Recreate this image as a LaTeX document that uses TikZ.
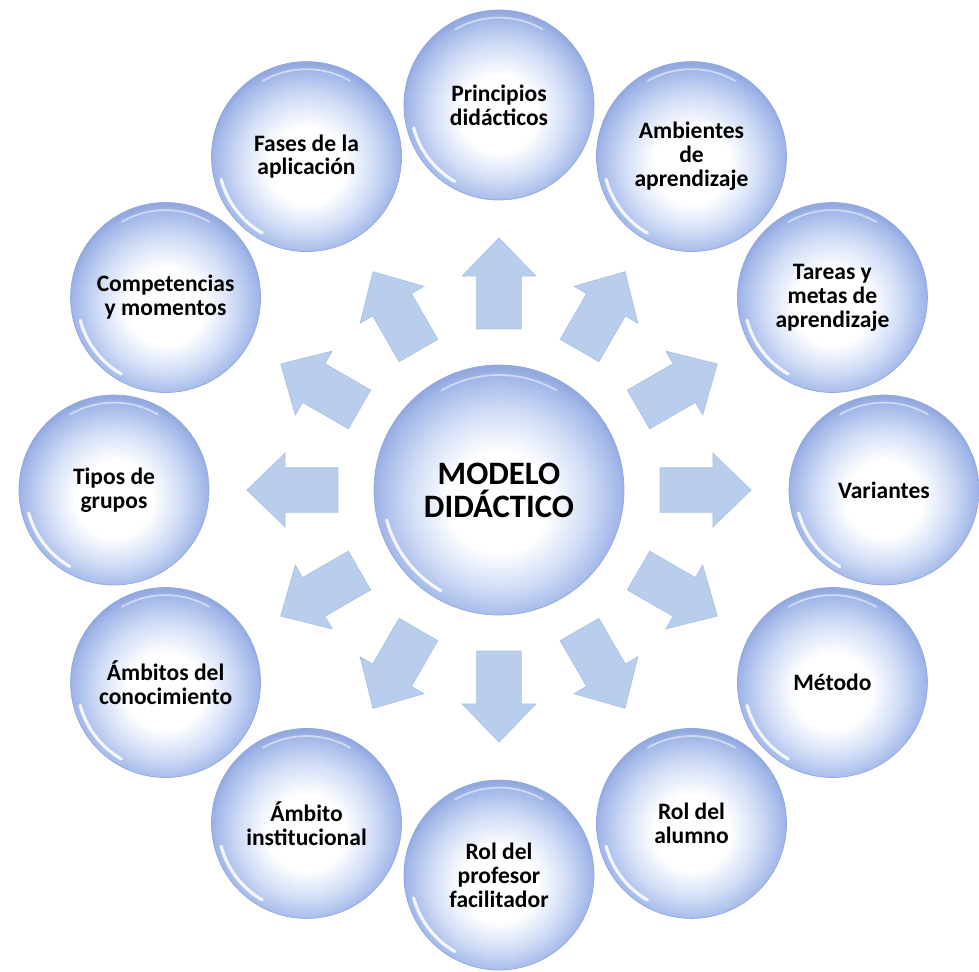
\documentclass[tikz,border=0pt]{standalone}
\usepackage{fontspec}
\setmainfont{Carlito}
\usetikzlibrary{shapes.arrows}

\definecolor{bubbleedge}{RGB}{160,182,232}
\definecolor{bubblemid}{RGB}{208,220,246}
\definecolor{bubbleline}{RGB}{146,168,222}
\definecolor{arrowblue}{RGB}{184,206,236}
\definecolor{arrowline}{RGB}{170,195,230}

% white core, blue rim
\pgfdeclareradialshading{bubble}{\pgfpoint{0bp}{-3bp}}{%
  color(0bp)=(white); color(10bp)=(white); color(18bp)=(bubblemid);
  color(24.5bp)=(bubbleedge); color(26bp)=(bubbleline); color(50bp)=(bubbleline)}

\tikzset{
  bubble/.style={circle, minimum size=#1, inner sep=0pt, shading=bubble,
    draw=bubbleline, line width=0.4pt, align=center, font=\bfseries,
    path picture={
      \draw[white, line width=1.8pt, opacity=.85, line cap=round]
        ([shift={(195:0.465*#1)}]path picture bounding box.center)
        arc[start angle=195, end angle=240, radius=0.465*#1];
      \draw[white, line width=1pt, opacity=.5, line cap=round]
        ([shift={(60:0.46*#1)}]path picture bounding box.center)
        arc[start angle=60, end angle=120, radius=0.46*#1];
    }},
  topic/.style={bubble=3.8cm, font=\bfseries\fontsize{13.4pt}{13.6pt}\selectfont},
  core/.style={bubble=5cm, font=\bfseries\fontsize{18.6pt}{18.8pt}\selectfont},
  flowarrow/.style={single arrow, minimum height=1.82cm, inner xsep=0pt,
    inner ysep=0.44cm, single arrow head extend=0.29cm,
    single arrow tip angle=88, fill=arrowblue, draw=arrowline, line width=0.4pt}
}

\begin{document}
\begin{tikzpicture}
\useasboundingbox (-9.98,-9.62) rectangle (9.60,9.8);

% centre
\node[core] (modelo) at (0,0) {MODELO\\DIDÁCTICO};

% arrows
\node[flowarrow, rotate=90]  (a1)  at (90:3.9)  {};
\node[flowarrow, rotate=60]  (a2)  at (60:3.9)  {};
\node[flowarrow, rotate=30]  (a3)  at (30:3.9)  {};
\node[flowarrow, rotate=0]   (a4)  at (0:3.9)   {};
\node[flowarrow, rotate=-30] (a5)  at (-30:3.9) {};
\node[flowarrow, rotate=-60] (a6)  at (-60:3.9) {};
\node[flowarrow, rotate=-90] (a7)  at (-90:3.9) {};
\node[flowarrow, rotate=-120] (a8) at (-120:3.9) {};
\node[flowarrow, rotate=-150] (a9) at (-150:3.9) {};
\node[flowarrow, rotate=180] (a10) at (180:3.9) {};
\node[flowarrow, rotate=150] (a11) at (150:3.9) {};
\node[flowarrow, rotate=120] (a12) at (120:3.9) {};

% ring of topics
\node[topic] (principios)   at (90:7.7)   {Principios\\didácticos};
\node[topic] (ambientes)    at (60:7.7)   {Ambientes\\de\\aprendizaje};
\node[topic] (tareas)       at (30:7.7)   {Tareas y\\metas de\\aprendizaje};
\node[topic] (variantes)    at (0:7.7)    {Variantes};
\node[topic] (metodo)       at (-30:7.7)  {Método};
\node[topic] (alumno)       at (-60:7.7)  {Rol del\\alumno};
\node[topic] (profesor)     at (-90:7.7)  {Rol del\\profesor\\facilitador};
\node[topic] (institucional) at (-120:7.7) {Ámbito\\institucional};
\node[topic] (conocimiento) at (-150:7.7) {Ámbitos del\\conocimiento};
\node[topic] (grupos)       at (180:7.7)  {Tipos de\\grupos};
\node[topic] (competencias) at (150:7.7)  {Competencias\\y momentos};
\node[topic] (fases)        at (120:7.7)  {Fases de la\\aplicación};
\end{tikzpicture}
\end{document}
